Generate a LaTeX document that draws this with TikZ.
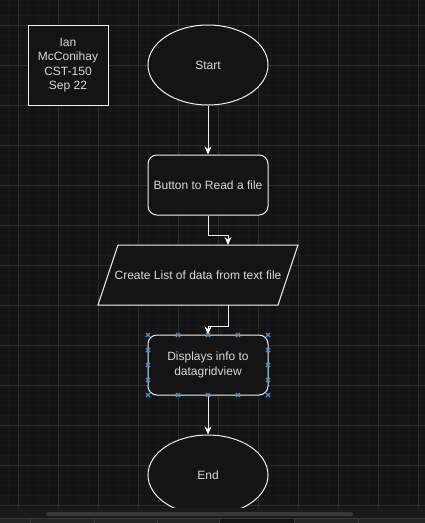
\documentclass[tikz,border=0pt]{standalone}
\usepackage{fontspec}
\setmainfont{Liberation Sans}
\usetikzlibrary{shapes.geometric,arrows.meta}
\definecolor{bgc}{HTML}{141414}
\definecolor{minorgrid}{HTML}{191919}
\definecolor{majorgrid}{HTML}{2C2C2C}
\definecolor{linec}{HTML}{F0F0F0}
\definecolor{textc}{HTML}{D8D8D8}
\definecolor{handlec}{HTML}{3A9AD9}
\definecolor{stripc}{HTML}{1A1A1A}
\definecolor{barc}{HTML}{383838}
\definecolor{tabc}{HTML}{232323}
\definecolor{tabsep}{HTML}{3A3A3A}
\tikzset{
  every node/.style={font=\fontsize{12}{14.4}\selectfont, text=textc},
  flowline/.style={draw=linec, line width=1pt},
  termshape/.style={ellipse, flowline, fill=bgc, minimum width=120pt, minimum height=80pt, inner sep=0pt},
  procbox/.style={rectangle, rounded corners=9pt, flowline, fill=bgc, minimum width=120pt, minimum height=60pt, inner sep=0pt, align=center},
  notebox/.style={rectangle, flowline, fill=bgc, minimum width=80pt, minimum height=80pt, inner sep=0pt, align=center},
  conn/.style={flowline, -{Stealth[length=8pt,width=7pt,inset=2.5pt]}},
  handle/.style={draw=handlec, line width=1.1pt}
}
\newcommand{\hmark}[2]{\draw[handle] (#1-2,#2-2) -- (#1+2,#2+2) (#1-2,#2+2) -- (#1+2,#2-2);}
\begin{document}
\begin{tikzpicture}[x=1pt,y=-1pt]
\useasboundingbox (0,0) rectangle (425,523);
% background
\fill[bgc] (0,0) rectangle (425,523);
\foreach \gx in {8,18,...,418} {\draw[minorgrid, line width=0.6pt] (\gx,0) -- (\gx,508);}
\foreach \gy in {5,15,...,505} {\draw[minorgrid, line width=0.6pt] (0,\gy) -- (425,\gy);}
\foreach \gx in {18,58,...,418} {\draw[majorgrid, line width=0.8pt] (\gx,0) -- (\gx,508);}
\foreach \gy in {25,65,...,505} {\draw[majorgrid, line width=0.8pt] (0,\gy) -- (425,\gy);}

% nodes
\node[notebox] (note) at (68,65) {Ian\\McConihay\\CST-150\\Sep 22};
\node[termshape] (start) at (208,65) {Start};
\node[procbox] (btn) at (208,185) {Button to Read a file};
\fill[bgc] (118,245) -- (298,245) -- (278,305) -- (98,305) -- cycle;
\draw[flowline] (118,245) -- (298,245) -- (278,305) -- (98,305) -- cycle;
\node[inner sep=0pt, minimum width=180pt, minimum height=60pt] (para) at (198,275) {Create List of data from text file};
\coordinate (pin) at (228,245);
\coordinate (pout) at (228,305);
\node[procbox] (disp) at (208,365) {Displays info to\\datagridview};
\node[termshape] (stop) at (208,475) {End};

% connectors
\draw[conn] (start.south) -- (btn.north);
\draw[conn] (btn.south) -- ++(0,20) -| (pin);
\draw[conn] (pout) -- ++(0,21) -| (disp.north);
\draw[conn] (disp.south) -- (stop.north);

% selection handles
\foreach \hx in {148,178,208,238,268} {\hmark{\hx}{335}\hmark{\hx}{395}}
\foreach \hy in {350,365,380} {\hmark{148}{\hy}\hmark{268}{\hy}}

% bottom interface strip
\fill[stripc] (0,508) rectangle (425,518);
\fill[barc, rounded corners=1.5pt] (46,512) rectangle (353,516);
\fill[tabc] (0,518) rectangle (425,523);
\fill[bgc] (220,518.5) rectangle (294,523);
\draw[tabsep, line width=0.6pt] (0,518.3) -- (425,518.3);
\foreach \tx in {30.7,94.7,157.7,219.7,294.3,358.7} {\draw[tabsep, line width=0.6pt] (\tx,518.3) -- (\tx,523);}
\end{tikzpicture}
\end{document}
